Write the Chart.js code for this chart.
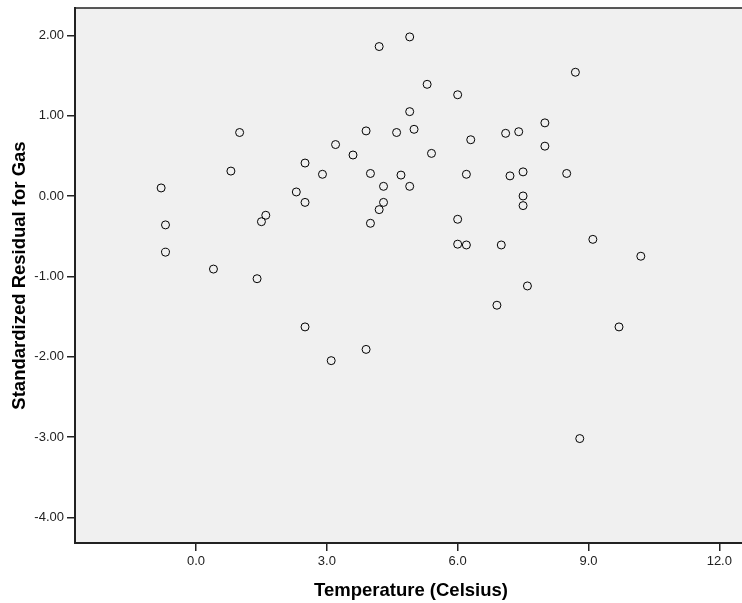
<!DOCTYPE html>
<html>
<head>
<meta charset="utf-8">
<script src="https://cdn.jsdelivr.net/npm/chart.js@4.4.1/dist/chart.umd.min.js"></script>
<style>
    html, body { margin: 0; background: #fff; overflow: hidden; }
    /* the original plot runs a little past the right edge of the picture */
    #wrap { width: 747px; height: 603px; }
</style>
</head>
<body>
<div id="wrap"><canvas id="residChart"></canvas></div>
<script>
// Temperature (Celsius) and standardized residuals
const temperature = [
    -0.8, -0.7, -0.7, 0.4, 0.8, 1.0, 4.2, 4.9, 5.3, 6.0,
    4.9, 3.9, 4.6, 5.0, 6.3, 3.2, 3.6, 5.4, 2.5, 2.9,
    4.0, 4.7, 6.2, 4.3, 4.9, 2.3, 2.5, 4.3, 4.2, 1.6,
    1.5, 4.0, 6.0, 6.0, 6.2, 7.0, 1.4, 8.7, 8.0, 7.1,
    7.4, 8.0, 7.2, 7.5, 8.5, 7.5, 7.5, 9.1, 10.2, 7.6,
    2.5, 3.1, 3.9, 6.9, 9.7, 8.8
];
const residual = [
    0.10, -0.36, -0.70, -0.91, 0.31, 0.79, 1.86, 1.98, 1.39, 1.26,
    1.05, 0.81, 0.79, 0.83, 0.70, 0.64, 0.51, 0.53, 0.41, 0.27,
    0.28, 0.26, 0.27, 0.12, 0.12, 0.05, -0.08, -0.08, -0.17, -0.24,
    -0.32, -0.34, -0.29, -0.60, -0.61, -0.61, -1.03, 1.54, 0.91, 0.78,
    0.80, 0.62, 0.25, 0.30, 0.28, 0.00, -0.12, -0.54, -0.75, -1.12,
    -1.63, -2.05, -1.91, -1.36, -1.63, -3.02
];
const xTicks = [0, 3, 6, 9, 12];
const yTicks = [2, 1, 0, -1, -2, -3, -4];

const fontFamily = 'Arial, "Liberation Sans", sans-serif';

// grey plot area plus the top frame line
const plotFrame = {
    id: 'plotFrame',
    beforeDraw(chart) {
        const a = chart.chartArea;
        const ctx = chart.ctx;
        ctx.save();
        ctx.fillStyle = '#f0f0f0';
        ctx.fillRect(a.left, a.top, a.right - a.left, a.bottom - a.top);
        ctx.restore();
    },
    afterDraw(chart) {
        const a = chart.chartArea;
        const ctx = chart.ctx;
        ctx.save();
        ctx.strokeStyle = '#222';
        ctx.lineWidth = 1.5;
        ctx.beginPath();
        ctx.moveTo(a.left, a.top);
        ctx.lineTo(a.right, a.top);
        ctx.stroke();
        ctx.restore();
    }
};

function initResidualChart() {
    const ctx = document.getElementById('residChart');
    const points = temperature.map((t, i) => ({ x: t, y: residual[i] }));

    new Chart(ctx, {
        type: 'scatter',
        data: {
            datasets: [{
                data: points,
                pointRadius: 4,
                pointBorderWidth: 1,
                pointBorderColor: '#000',
                pointBackgroundColor: 'rgba(0,0,0,0)',
                pointHoverRadius: 4
            }]
        },
        options: {
            responsive: true,
            maintainAspectRatio: false,
            animation: false,
            layout: { autoPadding: false, padding: { top: 8, right: 0, left: 0, bottom: 0 } },
            plugins: {
                legend: { display: false },
                tooltip: { enabled: false }
            },
            scales: {
                x: {
                    type: 'linear',
                    min: -2.775,
                    max: 12.635,
                    afterBuildTicks: s => { s.ticks = xTicks.map(v => ({ value: v })); },
                    afterFit: s => { s.height = 60; s.paddingLeft = 0; s.paddingRight = 0; },
                    grid: { drawOnChartArea: false, drawTicks: true, tickLength: 8, color: '#222', lineWidth: 1.5 },
                    border: { display: true, color: '#222', width: 2 },
                    ticks: {
                        color: '#222',
                        padding: 3,
                        font: { family: fontFamily, size: 13 },
                        callback: v => Number(v).toFixed(1)
                    },
                    title: {
                        display: true,
                        text: 'Temperature (Celsius)',
                        color: '#000',
                        font: { family: fontFamily, size: 18.5, weight: 'bold' },
                        padding: { top: 0, bottom: 1 }
                    }
                },
                y: {
                    type: 'linear',
                    min: -4.32,
                    max: 2.34,
                    afterBuildTicks: s => { s.ticks = yTicks.map(v => ({ value: v })); },
                    afterFit: s => { s.width = 75; s.paddingTop = 0; s.paddingBottom = 0; },
                    grid: { drawOnChartArea: false, drawTicks: true, tickLength: 8, color: '#222', lineWidth: 1.5 },
                    border: { display: true, color: '#222', width: 2 },
                    ticks: {
                        color: '#222',
                        padding: 3,
                        font: { family: fontFamily, size: 13 },
                        callback: v => Number(v).toFixed(2)
                    },
                    title: {
                        display: true,
                        text: 'Standardized Residual for Gas',
                        color: '#000',
                        font: { family: fontFamily, size: 18.5, weight: 'bold' },
                        padding: { top: 9, bottom: 0 }
                    }
                }
            }
        },
        plugins: [plotFrame]
    });
}

document.addEventListener('DOMContentLoaded', initResidualChart);
</script>
</body>
</html>
